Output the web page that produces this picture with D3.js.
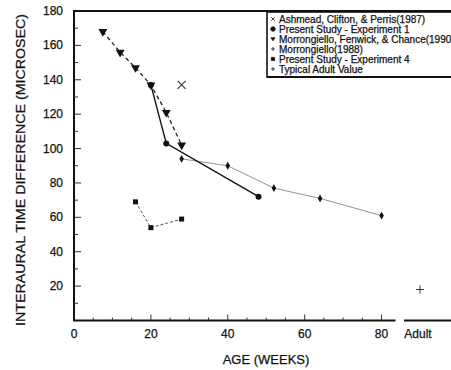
<!DOCTYPE html>
<html>
<head>
<meta charset="utf-8">
<script src="https://cdn.jsdelivr.net/npm/d3@7"></script>
<style>
  body { margin: 0; background: #fff; }
  text { font-family: "Liberation Sans", Arial, sans-serif; fill: #111; stroke: #111; stroke-width: 0.25px; }
</style>
</head>
<body>
<div id="chart"></div>
<script>
// data (age in weeks, ITD in microsec)
var ashmead = [{age: 28, itd: 137}];
var exp1 = [{age: 20, itd: 137}, {age: 24, itd: 103}, {age: 48, itd: 72}];
var morr1990 = [{age: 7.5, itd: 168}, {age: 12, itd: 156}, {age: 16, itd: 147},
                {age: 20, itd: 137}, {age: 24, itd: 121}, {age: 28, itd: 102}];
var morr1988 = [{age: 28, itd: 94}, {age: 40, itd: 90}, {age: 52, itd: 77},
                {age: 64, itd: 71}, {age: 80, itd: 61}];
var exp4 = [{age: 16, itd: 69}, {age: 20, itd: 54}, {age: 28, itd: 59}];
var adult = [{cat: "Adult", itd: 18}];

var legendLabels = ["Ashmead, Clifton, & Perris(1987)", "Present Study - Experiment 1",
                    "Morrongiello, Fenwick, & Chance(1990", "Morrongiello(1988)",
                    "Present Study - Experiment 4", "Typical Adult Value"];
var xTicks = [0, 20, 40, 60, 80];
var yTicks = [20, 40, 60, 80, 100, 120, 140, 160, 180];

var W = 451, H = 370;
var svg = d3.select("#chart").append("svg")
    .attr("width", W).attr("height", H);

var x = d3.scaleLinear().domain([0, 83.5]).range([74, 395]);
var xAdult = d3.scaleBand().domain(["Adult"]).range([404, 436]);
var y = d3.scaleLinear().domain([0, 180]).range([320.5, 11]);

// frame: left axis, top line
svg.append("line").attr("x1", 74).attr("x2", 74).attr("y1", y(180)).attr("y2", y(0))
    .attr("stroke", "#111").attr("stroke-width", 2);
svg.append("line").attr("x1", 73).attr("x2", W).attr("y1", y(180)).attr("y2", y(180))
    .attr("stroke", "#111").attr("stroke-width", 2);
// bottom axis (two pieces)
svg.append("line").attr("x1", 73).attr("x2", 395.5).attr("y1", y(0)).attr("y2", y(0))
    .attr("stroke", "#111").attr("stroke-width", 2);
svg.append("line").attr("x1", 404).attr("x2", W).attr("y1", y(0)).attr("y2", y(0))
    .attr("stroke", "#111").attr("stroke-width", 2);

// x ticks
svg.append("g").selectAll("line")
    .data(d3.range(5, 81, 5))
    .enter().append("line")
    .attr("x1", function(d) { return x(d); }).attr("x2", function(d) { return x(d); })
    .attr("y1", y(0))
    .attr("y2", function(d) { return y(0) - (d % 20 === 0 ? 6 : 3); })
    .attr("stroke", "#333").attr("stroke-width", 1);

svg.append("g").selectAll("text")
    .data(xTicks)
    .enter().append("text")
    .attr("x", function(d) { return x(d); })
    .attr("y", 338)
    .attr("text-anchor", "middle")
    .style("font-size", "12px")
    .text(function(d) { return d; });

svg.append("text")
    .attr("x", xAdult("Adult") + xAdult.bandwidth() / 2 - 2).attr("y", 338)
    .attr("text-anchor", "middle").style("font-size", "12px")
    .text("Adult");

// y ticks
svg.append("g").selectAll("line")
    .data(d3.range(10, 180, 10))
    .enter().append("line")
    .attr("x1", 74)
    .attr("x2", function(d) { return 74 + (d % 20 === 0 ? 7 : 4); })
    .attr("y1", function(d) { return y(d); }).attr("y2", function(d) { return y(d); })
    .attr("stroke", "#333").attr("stroke-width", 1);

svg.append("g").selectAll("text")
    .data(yTicks)
    .enter().append("text")
    .attr("x", 63)
    .attr("y", function(d) { return y(d) + 4; })
    .attr("text-anchor", "end")
    .style("font-size", "12px")
    .text(function(d) { return d; });

// axis titles
svg.append("text")
    .attr("x", 266).attr("y", 364)
    .attr("text-anchor", "middle").style("font-size", "13px")
    .text("AGE (WEEKS)");

svg.append("text")
    .attr("transform", "translate(25," + 170 + ") rotate(-90)")
    .attr("text-anchor", "middle").style("font-size", "13px")
    .attr("textLength", 312).attr("lengthAdjust", "spacingAndGlyphs")
    .text("INTERAURAL TIME DIFFERENCE (MICROSEC)");

var line = d3.line()
    .x(function(d) { return x(d.age); })
    .y(function(d) { return y(d.itd); });

// series lines
svg.append("path").datum(morr1988).attr("d", line)
    .attr("fill", "none").attr("stroke", "#777").attr("stroke-width", 0.8);
svg.append("path").datum(exp1).attr("d", line)
    .attr("fill", "none").attr("stroke", "#111").attr("stroke-width", 1.4);
svg.append("path").datum(morr1990).attr("d", line)
    .attr("fill", "none").attr("stroke", "#222").attr("stroke-width", 1.3)
    .attr("stroke-dasharray", "4,3");
svg.append("path").datum(exp4).attr("d", line)
    .attr("fill", "none").attr("stroke", "#555").attr("stroke-width", 1)
    .attr("stroke-dasharray", "3,2");

// markers
svg.append("g").selectAll("path")
    .data(morr1988).enter().append("path")
    .attr("transform", function(d) { return "translate(" + x(d.age) + "," + y(d.itd) + ")"; })
    .attr("d", d3.symbol(d3.symbolDiamond, 18))
    .attr("fill", "#111");

svg.append("g").selectAll("circle")
    .data(exp1).enter().append("circle")
    .attr("cx", function(d) { return x(d.age); })
    .attr("cy", function(d) { return y(d.itd); })
    .attr("r", 3).attr("fill", "#111");

svg.append("g").selectAll("path")
    .data(morr1990).enter().append("path")
    .attr("transform", function(d) { return "translate(" + x(d.age) + "," + y(d.itd) + ") rotate(180)"; })
    .attr("d", d3.symbol(d3.symbolTriangle, 34))
    .attr("fill", "#111");

svg.append("g").selectAll("rect")
    .data(exp4).enter().append("rect")
    .attr("x", function(d) { return x(d.age) - 2.5; })
    .attr("y", function(d) { return y(d.itd) - 2.5; })
    .attr("width", 5).attr("height", 5).attr("fill", "#111");

svg.append("g").selectAll("path")
    .data(ashmead).enter().append("path")
    .attr("transform", function(d) { return "translate(" + x(d.age) + "," + y(d.itd) + ")"; })
    .attr("d", "M-4,-4L4,4M-4,4L4,-4")
    .attr("stroke", "#333").attr("stroke-width", 1.1).attr("fill", "none");

svg.append("g").selectAll("path")
    .data(adult).enter().append("path")
    .attr("transform", function(d) { return "translate(" + (xAdult(d.cat) + xAdult.bandwidth() / 2) + "," + y(d.itd) + ")"; })
    .attr("d", "M-4,0L4,0M0,-4L0,4")
    .attr("stroke", "#333").attr("stroke-width", 1).attr("fill", "none");

// legend
var lg = svg.append("g");
lg.append("rect").attr("x", 267).attr("y", 12).attr("width", 200).attr("height", 65)
    .attr("fill", "#fff").attr("stroke", "#111").attr("stroke-width", 1.6);
lg.append("line").attr("x1", 267).attr("x2", W).attr("y1", 77).attr("y2", 77)
    .attr("stroke", "#111").attr("stroke-width", 2);

var lgMarks = ["x", "circle", "tri", "plus", "square", "plus"];
var lgItem = lg.selectAll("g.item")
    .data(legendLabels).enter().append("g")
    .attr("class", "item")
    .attr("transform", function(d, i) { return "translate(273," + (19 + i * 10) + ")"; });

lgItem.append("path")
    .attr("d", function(d, i) {
        var m = lgMarks[i];
        if (m === "x") return "M-1.8,-1.8L1.8,1.8M-1.8,1.8L1.8,-1.8";
        if (m === "plus") return "M-2,0L2,0M0,-2L0,2";
        if (m === "circle") return d3.symbol(d3.symbolCircle, 16)();
        if (m === "tri") return "M-2,-1.2L2,-1.2L0,1.8Z";
        return d3.symbol(d3.symbolSquare, 10)();
    })
    .attr("fill", function(d, i) { return (lgMarks[i] === "x" || lgMarks[i] === "plus") ? "none" : "#111"; })
    .attr("stroke", "#111").attr("stroke-width", 0.8);

lgItem.append("text")
    .attr("x", 6).attr("y", 3.5)
    .style("font-size", "10px")
    .text(function(d) { return d; });
</script>
</body>
</html>
